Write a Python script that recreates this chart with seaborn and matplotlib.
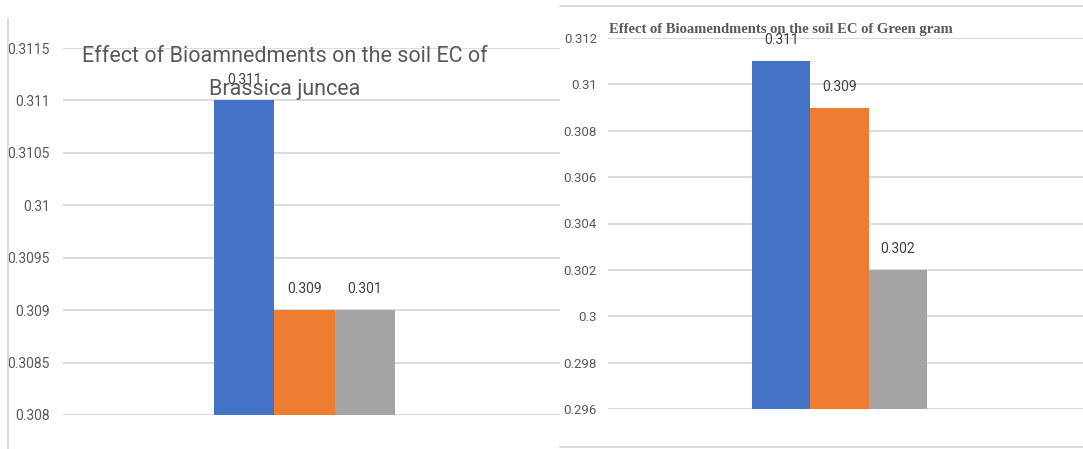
import matplotlib
matplotlib.use("Agg")
import matplotlib.pyplot as plt
from matplotlib.lines import Line2D
import seaborn as sns
import pandas as pd

# ---------------- data ----------------
treatments = ["T1", "T2", "T3"]
brassica_ec = [0.311, 0.309, 0.309]
brassica_labels = ["0.311", "0.309", "0.301"]
greengram_ec = [0.311, 0.309, 0.302]
greengram_labels = ["0.311", "0.309", "0.302"]
brassica_ticks = [0.308, 0.3085, 0.309, 0.3095, 0.31, 0.3105, 0.311, 0.3115]
brassica_ticklabels = ["0.308", "0.3085", "0.309", "0.3095", "0.31", "0.3105", "0.311", "0.3115"]
greengram_ticks = [0.296, 0.298, 0.3, 0.302, 0.304, 0.306, 0.308, 0.31, 0.312]
greengram_ticklabels = ["0.296", "0.298", "0.3", "0.302", "0.304", "0.306", "0.308", "0.31", "0.312"]
title_left = "Effect of Bioamnedments on the soil EC of\nBrassica juncea"
title_right = "Effect of Bioamendments on the soil EC of Green gram"

colors = ["#4472C4", "#ED7D31", "#A5A5A5"]

sns.set_theme(style="white")
SANS = ["Roboto", "DejaVu Sans"]
plt.rcParams["font.family"] = SANS

W, H = 1083, 449
fig = plt.figure(figsize=(W / 100, H / 100), dpi=100)


def px_axes(x0, x1, y_top, y_bot):
    return fig.add_axes([x0 / W, 1 - y_bot / H, (x1 - x0) / W, (y_bot - y_top) / H])


def panel(ax, values, labels, ticks, ticklabels, ylim, grp_px, ax_px, tick_size, pad):
    df = pd.DataFrame({"crop": ["c"] * len(treatments), "treatment": treatments, "ec": values})
    sns.barplot(data=df, x="crop", y="ec", hue="treatment", palette=colors,
                width=0.8, ax=ax, legend=False, saturation=1, errorbar=None,
                linewidth=0)
    unit = (grp_px[1] - grp_px[0]) / 0.8
    centre = (grp_px[0] + grp_px[1]) / 2
    ax.set_xlim((ax_px[0] - centre) / unit, (ax_px[1] - centre) / unit)
    ax.set_ylim(*ylim)
    ax.set_yticks(ticks)
    ax.set_yticklabels(ticklabels)
    ax.set_xticks([])
    ax.set_xlabel("")
    ax.set_ylabel("")
    for s in ax.spines.values():
        s.set_visible(False)
    ax.yaxis.grid(True, color="#d9d9d9", linewidth=1.3)
    ax.set_axisbelow(True)
    ax.tick_params(axis="y", length=0, pad=pad, labelsize=tick_size, labelcolor="#595959")
    for cont, lab in zip(ax.containers, labels):
        ax.bar_label(cont, labels=[lab], padding=10, fontsize=10, color="#404040")
    ax.patch.set_alpha(0)


axL = px_axes(63, 560, 48, 415)
panel(axL, brassica_ec, brassica_labels, brassica_ticks, brassica_ticklabels,
      (0.308, 0.3115), (214, 395), (63, 560), 10, 9.4)

axR = px_axes(608, 1083, 38, 409)
panel(axR, greengram_ec, greengram_labels, greengram_ticks, greengram_ticklabels,
      (0.296, 0.312), (752, 927), (608, 1083), 9.5, 8)

# titles
fig.text(285 / W, 1 - 73 / H, title_left, ha="center", va="center", fontsize=15.5,
         color="#595959", linespacing=1.75, family=SANS)
fig.text(781 / W, 1 - 30 / H, title_right, ha="center", va="center", fontsize=10.5,
         color="#595959", fontweight="bold", family=["Liberation Serif", "DejaVu Serif"])

# panel borders
lc = "#d9d9d9"
fig.add_artist(Line2D([8 / W, 8 / W], [1 - 19 / H, 0], transform=fig.transFigure, color=lc, lw=1.3))
fig.add_artist(Line2D([560 / W, 1], [1 - 6 / H, 1 - 6 / H], transform=fig.transFigure, color=lc, lw=1.3))
fig.add_artist(Line2D([560 / W, 1], [1 - 447 / H, 1 - 447 / H], transform=fig.transFigure, color=lc, lw=1.3))

fig.savefig("out.png", dpi=100)
